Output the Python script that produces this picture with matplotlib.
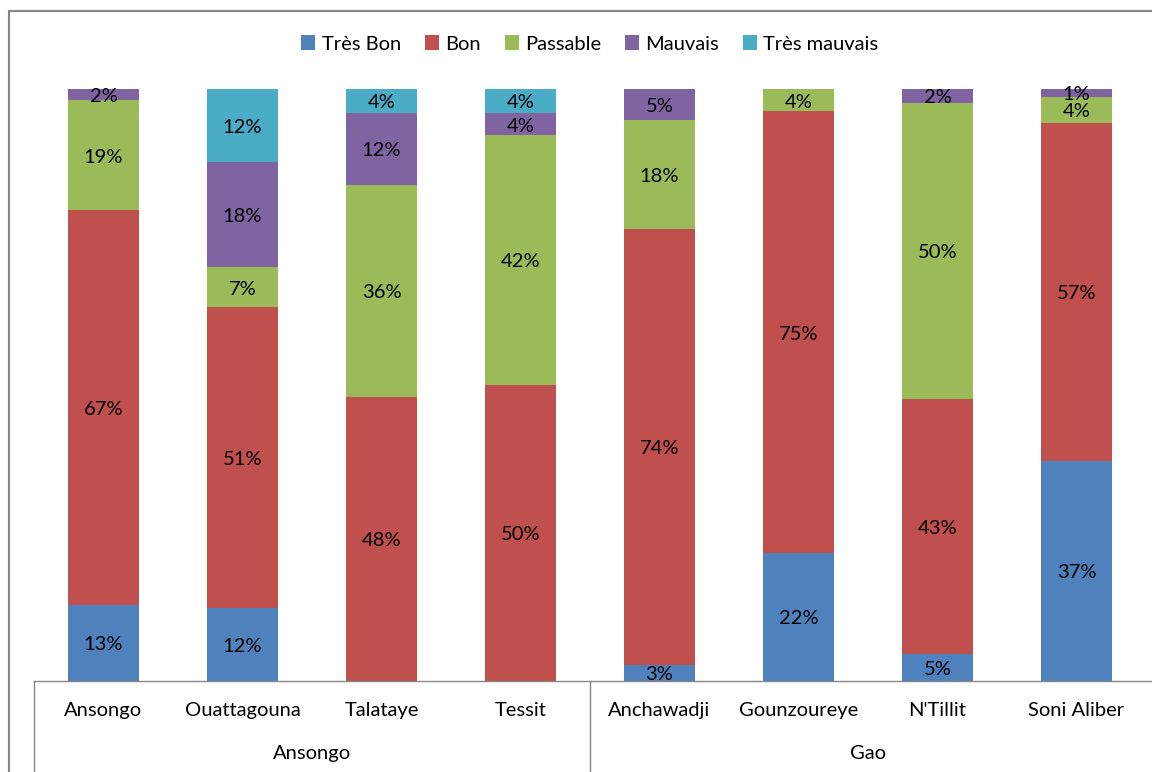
import matplotlib.pyplot as plt
from matplotlib.lines import Line2D
from matplotlib.patches import Rectangle

# Data
communes = ['Ansongo', 'Ouattagouna', 'Talataye', 'Tessit',
            'Anchawadji', 'Gounzoureye', "N'Tillit", 'Soni Aliber']
cercles = ['Ansongo', 'Gao']
cercle_size = [4, 4]

tres_bon = [12.8, 12.3, 0.0, 0.0, 2.7, 21.6, 4.6, 37.2]
bon = [66.7, 50.8, 48.0, 50.0, 73.6, 74.6, 43.0, 57.1]
passable = [18.6, 6.8, 35.8, 42.2, 18.4, 3.8, 50.0, 4.4]
mauvais = [1.9, 17.7, 12.2, 3.7, 5.3, 0.0, 2.4, 1.3]
tres_mauvais = [0.0, 12.4, 4.0, 4.1, 0.0, 0.0, 0.0, 0.0]

series = [('Très Bon', tres_bon, '#4F81BD'),
          ('Bon', bon, '#C0504D'),
          ('Passable', passable, '#9BBB59'),
          ('Mauvais', mauvais, '#8064A2'),
          ('Très mauvais', tres_mauvais, '#4BACC6')]

plt.rcParams['font.family'] = ['Lato', 'DejaVu Sans']
fs = 14.5
grey = '#868686'

fig = plt.figure(figsize=(11.52, 7.72), dpi=100)
ax = fig.add_axes([34/1152, 1-681/772, 1112/1152, 592/772])

x = list(range(len(communes)))
bottom = [0.0]*len(communes)
for name, vals, col in series:
    ax.bar(x, vals, width=0.51, bottom=bottom, color=col, label=name)
    for i, v in enumerate(vals):
        if v > 0:
            ax.text(i, bottom[i] + v/2 - 0.3, f'{v:.0f}%', ha='center', va='center',
                    fontsize=fs, color='black')
    bottom = [b + v for b, v in zip(bottom, vals)]

ax.set_xlim(-0.5, len(communes)-0.5)
ax.set_ylim(0, 100)
ax.set_yticks([])
ax.set_xticks([])
for s in ax.spines.values():
    s.set_visible(False)

# category labels
for i, c in enumerate(communes):
    ax.text(i, -4.9, c, ha='center', va='center', fontsize=fs)
start = 0
for g, n in zip(cercles, cercle_size):
    ax.text(start + n/2 - 0.5, -12.2, g, ha='center', va='center', fontsize=fs)
    start += n

# axis lines (category axis with group separators)
tr = ax.transAxes
ax.add_line(Line2D([0, 1.006], [0, 0], transform=tr, color=grey, lw=1, clip_on=False))
for xs in [0, 0.5]:
    ax.add_line(Line2D([xs, xs], [0, -0.16], transform=tr, color=grey, lw=1, clip_on=False))

# outer chart frame
fig.patches.append(Rectangle((9/1152, -0.1), 1.2, 1.1-11/772, transform=fig.transFigure,
                             fill=False, edgecolor=grey, lw=1.5))

leg = ax.legend(loc='center', bbox_to_anchor=(0.5, 1.076), ncol=5, frameon=False,
                fontsize=fs, handlelength=0.7, handleheight=0.7, handletextpad=0.3,
                columnspacing=1.2)

fig.savefig('out.png', dpi=100)
